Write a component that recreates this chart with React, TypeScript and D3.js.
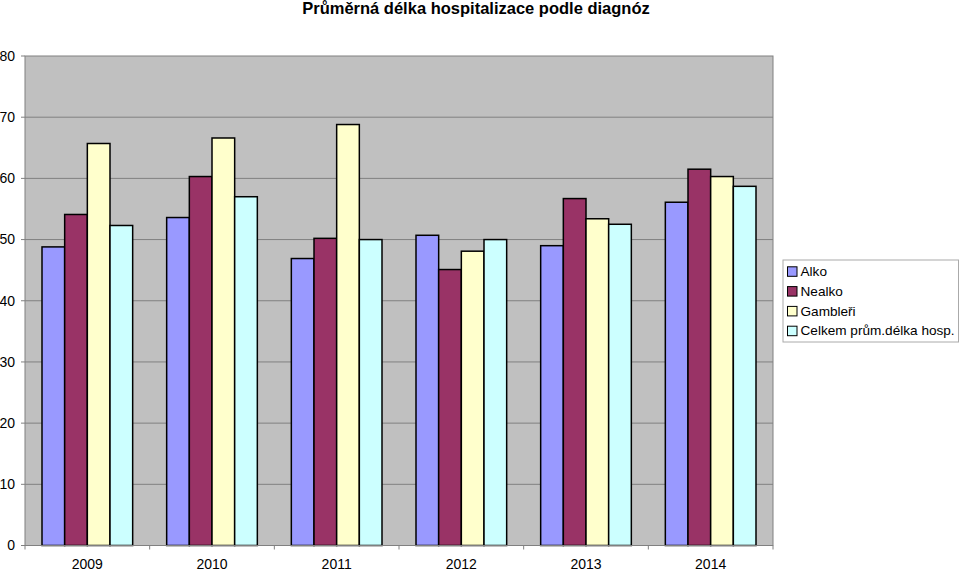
import * as d3 from 'd3';

const years = ['2009', '2010', '2011', '2012', '2013', '2014'];
const seriesNames = ['Alko', 'Nealko', 'Gambleři', 'Celkem prům.délka hosp.'];
const alko = [48.8, 53.6, 46.9, 50.7, 49.0, 56.1];
const nealko = [54.1, 60.3, 50.2, 45.1, 56.7, 61.5];
const gambleri = [65.7, 66.6, 68.8, 48.1, 53.4, 60.3];
const celkem = [52.3, 57.0, 50.0, 50.0, 52.5, 58.7];
const colors = ['#9999FF', '#993366', '#FFFFCC', '#CCFFFF'];
const yTicks = [0, 10, 20, 30, 40, 50, 60, 70, 80];

const font = 'Liberation Sans, Arial, sans-serif';

export default function App() {
  const width = 960;
  const height = 571;
  const left = 25;
  const right = 773;
  const top = 56;
  const bottom = 545.5;

  const series = [alko, nealko, gambleri, celkem];

  const x = d3.scaleBand<string>().domain(years).range([left, right]).paddingInner(0).paddingOuter(0);
  // Excel gap width 150%: 4 bars + 1.5 bar widths per category
  const bw = x.bandwidth() / 5.5;
  const y = d3.scaleLinear().domain([0, 80]).range([bottom, top]);

  return (
    <svg
      width={width}
      height={height}
      style={{ position: 'absolute', left: 0, top: 0, background: '#fff' }}
      fontFamily={font}
    >
      <text x={476} y={14} textAnchor="middle" fontSize={16.5} fontWeight="bold">
        Průměrná délka hospitalizace podle diagnóz
      </text>

      <rect x={left} y={top} width={right - left} height={bottom - top} fill="#C0C0C0" stroke="#808080" strokeWidth={1} />

      {yTicks.map((t) => (
        <g key={t}>
          {t > 0 && t < 80 && (
            <line x1={left} x2={right} y1={y(t)} y2={y(t)} stroke="#808080" strokeWidth={1} />
          )}
          <line x1={left - 4} x2={left} y1={y(t)} y2={y(t)} stroke="#808080" strokeWidth={1} />
          <text x={15} y={y(t)} dy="0.35em" textAnchor="end" fontSize={14}>
            {t}
          </text>
        </g>
      ))}

      {years.map((yr, i) =>
        series.map((s, j) => (
          <rect
            key={yr + j}
            x={(x(yr) as number) + 0.75 * bw + j * bw}
            y={y(s[i])}
            width={bw}
            height={bottom - y(s[i])}
            fill={colors[j]}
            stroke="#000"
            strokeWidth={1.5}
          />
        ))
      )}

      <line x1={left} x2={right} y1={bottom} y2={bottom} stroke="#808080" strokeWidth={1} />
      {years.concat(['end']).map((yr, i) => {
        const xx = left + i * x.bandwidth();
        return <line key={'t' + i} x1={xx} x2={xx} y1={bottom} y2={bottom + 4} stroke="#808080" strokeWidth={1} />;
      })}
      {years.map((yr) => (
        <text key={'l' + yr} x={(x(yr) as number) + x.bandwidth() / 2} y={564} dy="0.35em" textAnchor="middle" fontSize={14}>
          {yr}
        </text>
      ))}

      <g>
        <rect x={783} y={260} width={175.5} height={82} fill="#fff" stroke="#aaa" strokeWidth={1} />
        {seriesNames.map((n, j) => (
          <g key={n} transform={`translate(787, ${271.3 + j * 19.8})`}>
            <rect x={0.5} y={-4.5} width={9.5} height={9.5} fill={colors[j]} stroke="#000" strokeWidth={1} />
            <text x={13.5} y={0} dy="0.35em" fontSize={13.6}>
              {n}
            </text>
          </g>
        ))}
      </g>
    </svg>
  );
}
